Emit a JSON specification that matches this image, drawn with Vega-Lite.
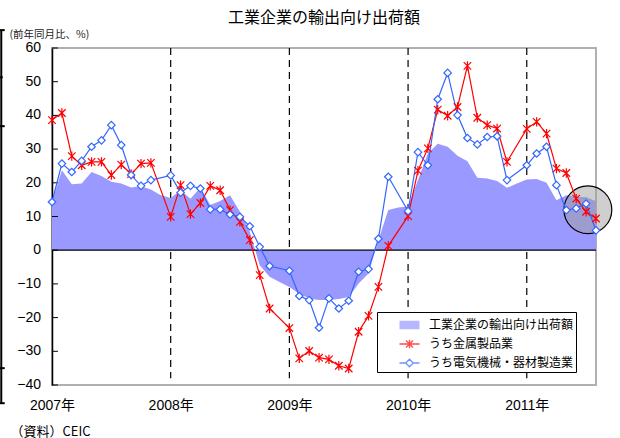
{
  "$schema": "https://vega.github.io/schema/vega-lite/v6.json",
  "width": 544,
  "height": 337,
  "autosize": "none",
  "padding": {"left": 52, "top": 48, "right": 24, "bottom": 53},
  "background": "white",
  "config": {
    "view": {"stroke": "#b0b0b0", "strokeWidth": 2},
    "axis": {"grid": false},
    "axisX": {"labelOverlap": false, "labelFlush": false}
  },
  "title": {
    "text": "工業企業の輸出向け出荷額",
    "font": "Noto Sans CJK JP",
    "fontSize": 16,
    "fontWeight": "normal",
    "color": "#000000",
    "anchor": "middle",
    "offset": 3
  },
  "datasets": {
    "monthly": [
      {"t": 0, "total": 14.3, "metal": 38.6, "elec": 14.3},
      {"t": 1, "total": 23.7, "metal": 40.7, "elec": 25.7},
      {"t": 2, "total": 19.6, "metal": 27.9, "elec": 23.2},
      {"t": 3, "total": 19.8, "metal": 25.2, "elec": 26.5},
      {"t": 4, "total": 23.2, "metal": 26.2, "elec": 30.7},
      {"t": 5, "total": 22.0, "metal": 26.2, "elec": 32.6},
      {"t": 6, "total": 20.3, "metal": 22.3, "elec": 37.1},
      {"t": 7, "total": 19.8, "metal": 25.4, "elec": 31.2},
      {"t": 8, "total": 18.6, "metal": 22.6, "elec": 22.3},
      {"t": 9, "total": 19.0, "metal": 25.7, "elec": 19.1},
      {"t": 10, "total": 18.0, "metal": 25.9, "elec": 20.8},
      {"t": 11, "total": 16.3, "metal": null, "elec": null},
      {"t": 12, "total": 15.5, "metal": 9.9, "elec": 22.2},
      {"t": 13, "total": 17.8, "metal": 19.3, "elec": 17.1},
      {"t": 14, "total": 15.3, "metal": 10.7, "elec": 19.1},
      {"t": 15, "total": 18.6, "metal": 14.0, "elec": 18.3},
      {"t": 16, "total": 13.4, "metal": 19.1, "elec": 12.1},
      {"t": 17, "total": 14.6, "metal": 17.8, "elec": 12.1},
      {"t": 18, "total": 16.3, "metal": 11.9, "elec": 10.6},
      {"t": 19, "total": 11.4, "metal": 8.4, "elec": 9.9},
      {"t": 20, "total": 5.4, "metal": 3.0, "elec": 7.1},
      {"t": 21, "total": -4.5, "metal": -7.4, "elec": 1.0},
      {"t": 22, "total": -7.9, "metal": -17.3, "elec": -4.7},
      {"t": 23, "total": -9.4, "metal": null, "elec": null},
      {"t": 24, "total": -10.9, "metal": -23.1, "elec": -6.1},
      {"t": 25, "total": -12.9, "metal": -32.1, "elec": -13.6},
      {"t": 26, "total": -14.3, "metal": -29.9, "elec": -14.8},
      {"t": 27, "total": -14.8, "metal": -31.9, "elec": -23.0},
      {"t": 28, "total": -14.8, "metal": -32.4, "elec": -14.3},
      {"t": 29, "total": -14.5, "metal": -34.3, "elec": -17.3},
      {"t": 30, "total": -13.9, "metal": -35.1, "elec": -15.0},
      {"t": 31, "total": -9.9, "metal": -24.2, "elec": -6.4},
      {"t": 32, "total": -6.9, "metal": -19.5, "elec": -5.6},
      {"t": 33, "total": 3.0, "metal": -10.9, "elec": 3.4},
      {"t": 34, "total": 11.9, "metal": 1.3, "elec": 21.8},
      {"t": 35, "total": 12.7, "metal": null, "elec": null},
      {"t": 36, "total": 13.0, "metal": 10.1, "elec": 11.6},
      {"t": 37, "total": 20.8, "metal": 23.6, "elec": 29.1},
      {"t": 38, "total": 28.7, "metal": 30.2, "elec": 25.2},
      {"t": 39, "total": 31.6, "metal": 41.7, "elec": 44.8},
      {"t": 40, "total": 30.7, "metal": 39.9, "elec": 52.6},
      {"t": 41, "total": 28.0, "metal": 42.5, "elec": 40.1},
      {"t": 42, "total": 26.4, "metal": 54.7, "elec": 33.3},
      {"t": 43, "total": 21.5, "metal": 39.3, "elec": 31.4},
      {"t": 44, "total": 21.3, "metal": 37.1, "elec": 33.6},
      {"t": 45, "total": 20.5, "metal": 36.1, "elec": 33.8},
      {"t": 46, "total": 18.5, "metal": 26.2, "elec": 20.8},
      {"t": 47, "total": 19.8, "metal": null, "elec": null},
      {"t": 48, "total": 21.0, "metal": 36.0, "elec": 25.2},
      {"t": 49, "total": 21.1, "metal": 38.1, "elec": 28.7},
      {"t": 50, "total": 20.0, "metal": 34.6, "elec": 30.7},
      {"t": 51, "total": 14.8, "metal": 24.2, "elec": 19.3},
      {"t": 52, "total": 16.3, "metal": 22.9, "elec": 11.9},
      {"t": 53, "total": 15.8, "metal": 15.3, "elec": 12.4},
      {"t": 54, "total": 15.8, "metal": 11.4, "elec": 13.8},
      {"t": 55, "total": 14.5, "metal": 9.4, "elec": 5.9}
    ],
    "years": [
      {"t": 12, "top": 60, "bottom": -38},
      {"t": 24, "top": 60, "bottom": -38},
      {"t": 36, "top": 60, "bottom": -38},
      {"t": 48, "top": 60, "bottom": -38}
    ],
    "yticks": [
      {"v": -40}, {"v": -30}, {"v": -20}, {"v": -10}, {"v": 0}, {"v": 10},
      {"v": 20}, {"v": 30}, {"v": 40}, {"v": 50}, {"v": 60}
    ],
    "zero": [{"v": 0}],
    "lens": [{"t": 54.18, "v": 12.0}],
    "bracket": [
      {"x": -5.13, "x2": -5.13, "y": 65.3, "y2": -45.4},
      {"x": -5.3, "x2": -4.78, "y": 65.3, "y2": 65.3},
      {"x": -5.3, "x2": -4.98, "y": 51.3, "y2": 51.3},
      {"x": -5.3, "x2": -4.78, "y": 36.8, "y2": 36.8},
      {"x": -5.3, "x2": -4.78, "y": -35.0, "y2": -35.0},
      {"x": -5.3, "x2": -4.78, "y": -45.4, "y2": -45.4}
    ]
  },
  "layer": [
    {
      "data": {"name": "years"},
      "mark": {"type": "rule", "color": "#000000", "strokeWidth": 1.2, "strokeDash": [7, 5]},
      "encoding": {
        "x": {
          "field": "t",
          "type": "quantitative",
          "scale": {"domain": [0, 55], "nice": false, "zero": false},
          "axis": {
            "values": [0, 12, 24, 36, 48],
            "labelExpr": "(2007 + datum.value / 12) + '年'",
            "domain": false,
            "ticks": false,
            "labelPadding": 13,
            "labelFont": "Liberation Sans, Noto Sans CJK JP",
            "labelFontSize": 14,
            "labelColor": "#000000",
            "labelFlush": false,
            "labelOverlap": false,
            "title": "（資料）CEIC",
            "titleFont": "Noto Sans CJK JP",
            "titleFontSize": 13,
            "titleFontWeight": "normal",
            "titleColor": "#000000",
            "titleAngle": 0,
            "titleAlign": "left",
            "titleBaseline": "middle",
            "titleX": -42,
            "titleY": 46
          }
        },
        "y": {
          "field": "top",
          "type": "quantitative",
          "scale": {"domain": [-40, 60], "nice": false},
          "axis": {
            "labels": false,
            "ticks": false,
            "domainColor": "#000000",
            "domainWidth": 1.5,
            "title": "(前年同月比、%)",
            "titleFont": "Noto Sans CJK JP",
            "titleFontSize": 10.5,
            "titleFontWeight": "normal",
            "titleColor": "#222222",
            "titleAngle": 0,
            "titleAlign": "left",
            "titleBaseline": "middle",
            "titleX": -43,
            "titleY": -14
          }
        },
        "y2": {"field": "bottom"}
      }
    },
    {
      "data": {"name": "monthly"},
      "mark": {"type": "area", "color": "#9999ff", "opacity": 1},
      "encoding": {
        "x": {"field": "t", "type": "quantitative"},
        "y": {"field": "total", "type": "quantitative"}
      }
    },
    {
      "data": {"name": "zero"},
      "mark": {"type": "rule", "color": "#000000", "strokeWidth": 1.3},
      "encoding": {"y": {"field": "v", "type": "quantitative"}}
    },
    {
      "data": {"name": "yticks"},
      "mark": {"type": "rule", "color": "#000000", "strokeWidth": 1},
      "encoding": {
        "y": {"field": "v", "type": "quantitative"},
        "x": {"datum": 0, "type": "quantitative"},
        "x2": {"datum": 0.6}
      }
    },
    {
      "data": {"name": "yticks"},
      "mark": {"type": "text", "align": "right", "baseline": "middle", "dx": -11, "font": "Liberation Sans", "fontSize": 14, "color": "#000000"},
      "encoding": {
        "y": {"field": "v", "type": "quantitative"},
        "x": {"datum": 0, "type": "quantitative"},
        "text": {"field": "v", "type": "quantitative"}
      }
    },
    {
      "data": {"name": "lens"},
      "mark": {"type": "point", "shape": "circle", "size": 2290, "filled": true, "fill": "#a0a0a0", "fillOpacity": 0.5, "stroke": "#000000", "strokeWidth": 1.2, "strokeOpacity": 1, "opacity": 1},
      "encoding": {
        "x": {"field": "t", "type": "quantitative"},
        "y": {"field": "v", "type": "quantitative"}
      }
    },
    {
      "data": {"name": "monthly"},
      "transform": [{"filter": "isValid(datum.metal)"}],
      "mark": {"type": "line", "strokeWidth": 1.2, "color": "#ff0000"},
      "encoding": {
        "x": {"field": "t", "type": "quantitative"},
        "y": {"field": "metal", "type": "quantitative"}
      }
    },
    {
      "data": {"name": "monthly"},
      "transform": [{"filter": "isValid(datum.elec)"}],
      "mark": {"type": "line", "strokeWidth": 1.2, "color": "#3366ff"},
      "encoding": {
        "x": {"field": "t", "type": "quantitative"},
        "y": {"field": "elec", "type": "quantitative"}
      }
    },
    {
      "data": {"name": "monthly"},
      "transform": [{"filter": "isValid(datum.metal)"}],
      "mark": {"type": "point", "shape": "M-1,-1L1,1M-1,1L1,-1M0,-1.25V1.25", "size": 56, "filled": false, "fill": "transparent", "stroke": "#ff0000", "strokeWidth": 1.2, "opacity": 1},
      "encoding": {
        "x": {"field": "t", "type": "quantitative"},
        "y": {"field": "metal", "type": "quantitative"}
      }
    },
    {
      "data": {"name": "monthly"},
      "transform": [{"filter": "isValid(datum.elec)"}],
      "mark": {"type": "point", "shape": "diamond", "size": 56, "filled": true, "fill": "#ffffff", "stroke": "#3366ff", "strokeWidth": 1.2, "opacity": 1},
      "encoding": {
        "x": {"field": "t", "type": "quantitative"},
        "y": {"field": "elec", "type": "quantitative"}
      }
    },
    {
      "data": {"name": "monthly"},
      "transform": [
        {"fold": ["total", "metal", "elec"], "as": ["key", "v"]},
        {"filter": "false"}
      ],
      "mark": {"type": "point", "filled": false, "strokeWidth": 1.3},
      "encoding": {
        "x": {"field": "t", "type": "quantitative"},
        "y": {"field": "v", "type": "quantitative"},
        "color": {
          "field": "key",
          "type": "nominal",
          "scale": {"domain": ["total", "metal", "elec"], "range": ["#9999ff", "#ff0000", "#3366ff"]},
          "legend": {
            "title": null,
            "orient": "none",
            "legendX": 325,
            "legendY": 264,
            "direction": "vertical",
            "strokeColor": "#000000",
            "fillColor": "#ffffff",
            "padding": 2,
            "symbolSize": 400,
            "symbolOffset": 19.5,
            "symbolStrokeWidth": 1.3,
            "labelOffset": 8.5,
            "rowPadding": 1,
            "labelFont": "Noto Sans CJK JP",
            "labelFontSize": 12,
            "labelColor": "#000000",
            "labelLimit": 300,
            "labelExpr": "datum.value === 'total' ? '工業企業の輸出向け出荷額　' : datum.value === 'metal' ? 'うち金属製品業' : 'うち電気機械・器材製造業'"
          }
        },
        "shape": {
          "field": "key",
          "type": "nominal",
          "scale": {
            "domain": ["total", "metal", "elec"],
            "range": [
              "M-1,-0.35H1M-1,-0.25H1M-1,-0.15H1M-1,-0.05H1M-1,0.05H1M-1,0.15H1M-1,0.25H1M-1,0.35H1",
              "M-1,0H1M-0.35,-0.35L0.35,0.35M-0.35,0.35L0.35,-0.35M0,-0.42V0.42",
              "M-1,0H-0.38M0.38,0H1M0,-0.38L0.38,0L0,0.38L-0.38,0Z"
            ]
          },
          "legend": {
            "title": null,
            "orient": "none",
            "legendX": 325,
            "legendY": 264,
            "direction": "vertical",
            "strokeColor": "#000000",
            "fillColor": "#ffffff",
            "padding": 2,
            "symbolSize": 400,
            "symbolOffset": 19.5,
            "symbolStrokeWidth": 1.3,
            "labelOffset": 8.5,
            "rowPadding": 1,
            "labelFont": "Noto Sans CJK JP",
            "labelFontSize": 12,
            "labelColor": "#000000",
            "labelLimit": 300,
            "labelExpr": "datum.value === 'total' ? '工業企業の輸出向け出荷額　' : datum.value === 'metal' ? 'うち金属製品業' : 'うち電気機械・器材製造業'"
          }
        }
      }
    },
    {
      "data": {"name": "bracket"},
      "mark": {"type": "rule", "color": "#000000", "strokeWidth": 2},
      "encoding": {
        "x": {"field": "x", "type": "quantitative"},
        "x2": {"field": "x2"},
        "y": {"field": "y", "type": "quantitative"},
        "y2": {"field": "y2"}
      }
    }
  ]
}
